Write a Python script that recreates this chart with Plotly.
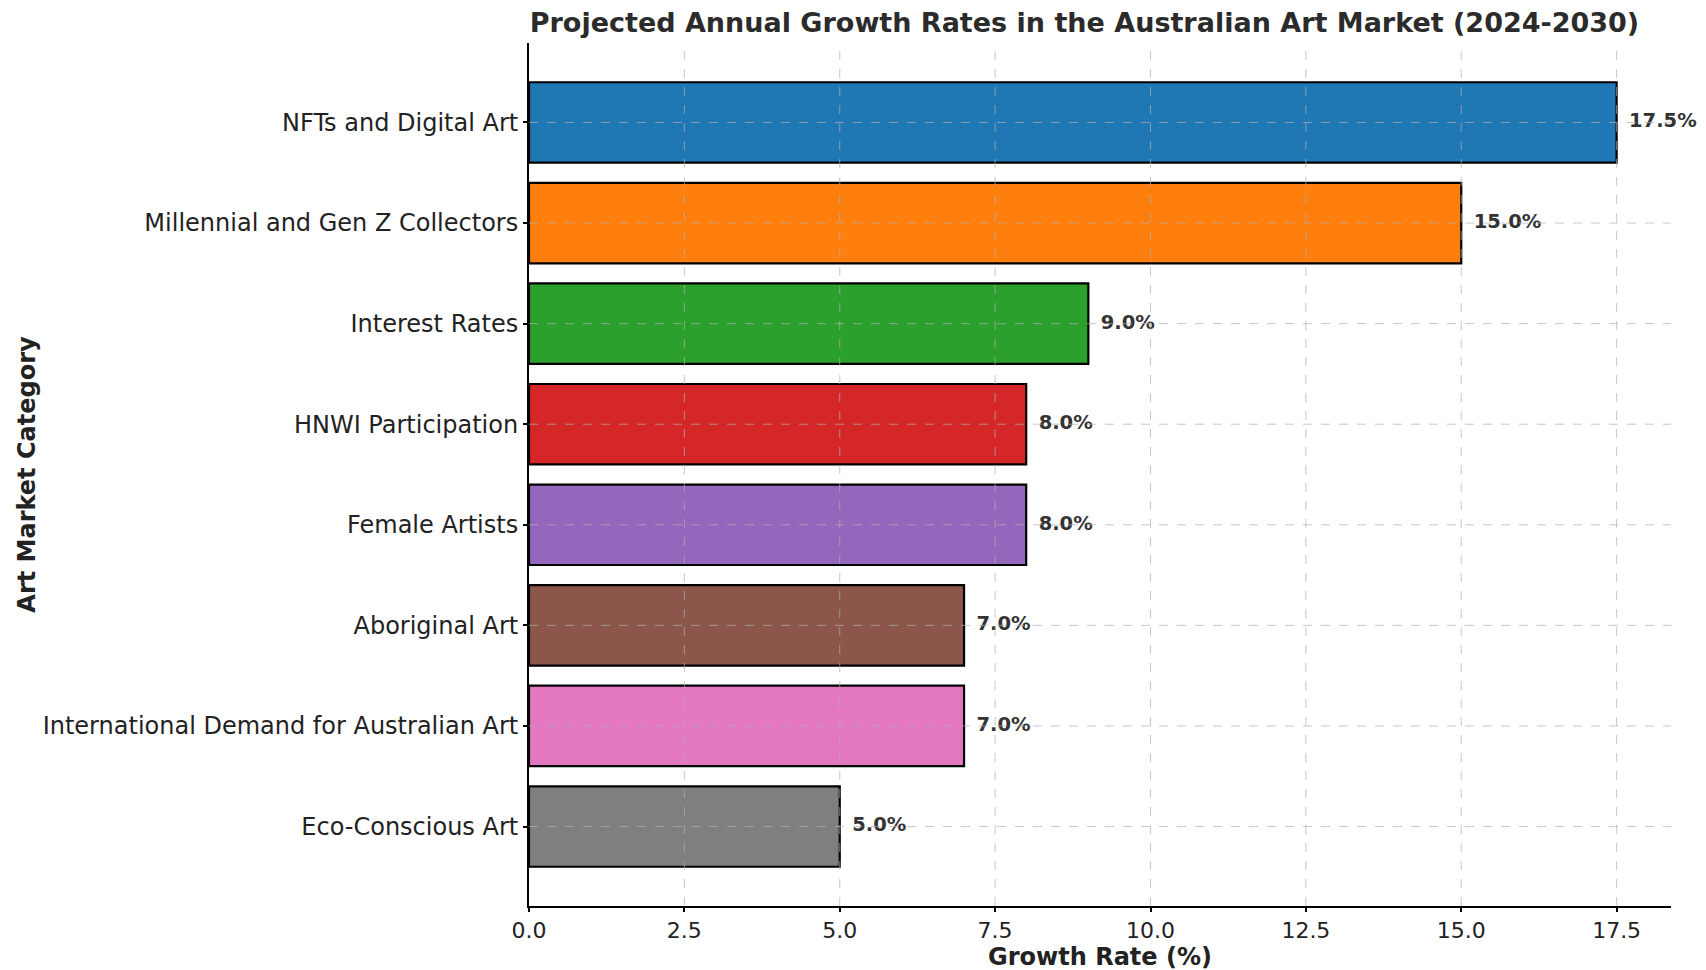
import plotly.graph_objects as go

categories = [
    "NFTs and Digital Art",
    "Millennial and Gen Z Collectors",
    "Interest Rates",
    "HNWI Participation",
    "Female Artists",
    "Aboriginal Art",
    "International Demand for Australian Art",
    "Eco-Conscious Art",
]
growth_rates = [17.5, 15.0, 9.0, 8.0, 8.0, 7.0, 7.0, 5.0]
bar_colors = ["#1f77b4", "#ff7f0e", "#2ca02c", "#d62728",
              "#9467bd", "#8c564b", "#e377c2", "#7f7f7f"]
tick_vals = [0, 2.5, 5, 7.5, 10, 12.5, 15, 17.5]
tick_text = ["0.0", "2.5", "5.0", "7.5", "10.0", "12.5", "15.0", "17.5"]
labels = [f"{v:.1f}%" for v in growth_rates]

FONT = "DejaVu Sans"
GRID = "rgba(176,176,176,0.7)"

fig = go.Figure()
fig.add_trace(go.Bar(
    y=categories, x=growth_rates, orientation="h",
    marker=dict(color=bar_colors, line=dict(color="black", width=2.2)),
    width=0.8, showlegend=False, hoverinfo="x+y",
))
fig.add_trace(go.Scatter(
    y=categories, x=[v + 0.2 for v in growth_rates],
    mode="text", text=labels, textposition="middle right",
    textfont=dict(family=FONT, size=19.5, color="#333333", weight="bold"),
    showlegend=False, hoverinfo="skip", cliponaxis=False,
))

# grid lines drawn above the bars (as in the reference)
for tv in tick_vals[1:]:
    fig.add_shape(type="line", xref="x", yref="paper", x0=tv, x1=tv, y0=0, y1=1,
                  line=dict(color=GRID, width=1, dash="dash"), layer="above")
for c in categories:
    fig.add_shape(type="line", xref="paper", yref="y", x0=0, x1=1, y0=c, y1=c,
                  line=dict(color=GRID, width=1, dash="dash"), layer="above")

fig.update_layout(
    width=1706, height=970,
    margin=dict(l=521, r=43, t=35, b=72),
    paper_bgcolor="white", plot_bgcolor="white",
    title=dict(
        text="<b>Projected Annual Growth Rates in the Australian Art Market (2024-2030)</b>",
        x=0.631, xanchor="center", y=0.985, yanchor="middle",
        font=dict(family=FONT, size=27, color="#2b2b2b"),
    ),
    xaxis=dict(
        range=[0, 18.375], tickvals=tick_vals, ticktext=tick_text,
        showline=True, linecolor="black", linewidth=2,
        ticks="outside", ticklen=4, tickwidth=1.5, tickcolor="black",
        showgrid=False, zeroline=False, automargin=False,
        tickfont=dict(family=FONT, size=22, color="#222222"),
        title=dict(text="<b>Growth Rate (%)</b>", standoff=6,
                   font=dict(family=FONT, size=24, color="#222222")),
    ),
    yaxis=dict(
        type="category", categoryarray=categories,
        range=[7.79, -0.79],
        showline=True, linecolor="black", linewidth=2,
        ticks="outside", ticklen=4, tickwidth=1.5, tickcolor="black",
        showgrid=False, zeroline=False, automargin=False,
        tickfont=dict(family=FONT, size=24, color="#222222"),
        title=dict(text="<b>Art Market Category</b>", standoff=0,
                   font=dict(family=FONT, size=24, color="#222222")),
    ),
    bargap=0.2,
)

fig.write_html("out.html")
